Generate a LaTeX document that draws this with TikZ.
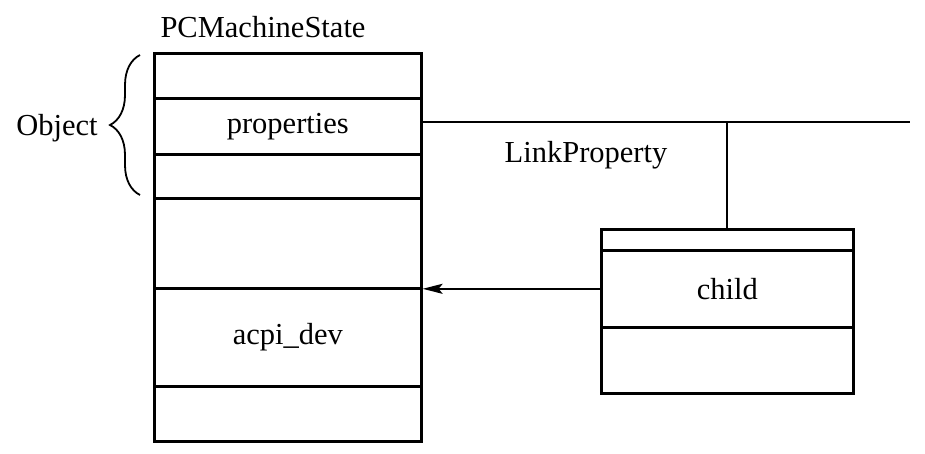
\documentclass[tikz,border=0pt]{standalone}
\usepackage{fontspec}
\setmainfont{Liberation Serif}
\usetikzlibrary{decorations.pathreplacing,arrows.meta}
\begin{document}
\begin{tikzpicture}[x=1pt,y=-1pt,
  field/.style={draw,line width=2.6pt,minimum width=267pt,inner sep=0pt,anchor=north west,font=\fontsize{30.5}{36}\selectfont},
  cfield/.style={draw,line width=2.6pt,minimum width=252pt,inner sep=0pt,anchor=north west,font=\fontsize{30.5}{36}\selectfont},
  lbl/.style={font=\fontsize{30.5}{36}\selectfont,inner sep=0pt},
  conn/.style={line width=1.8pt},
]
\useasboundingbox (0,0) rectangle (925,453);
% main struct
\node[field,minimum height=45pt] (f1) at (153,52) {};
\node[field,minimum height=56pt] (props) at (153,97) {properties};
\node[field,minimum height=44pt] (f3) at (153,153) {};
\node[field,minimum height=90pt] (f4) at (153,197) {};
\node[field,minimum height=98pt] (acpi) at (153,287) {acpi\_dev};
\node[field,minimum height=55pt] (f6) at (153,385) {};
\node[lbl] (title) at (263,27) {PCMachineState};
% child struct
\node[cfield,minimum height=21pt] (c1) at (600,228) {};
\node[cfield,minimum height=77pt] (child) at (600,249) {child};
\node[cfield,minimum height=66pt] (c3) at (600,326) {};
% link property
\coordinate (lend) at (910,122);
\coordinate (ljoin) at (727,122);
\draw[conn] (props.east |- lend) -- (lend);
\draw[conn] (ljoin) -- (ljoin |- c1.north);
\node[lbl] (lp) at (586,155) {LinkProperty};
% arrow
\draw[conn,-{Stealth[length=20pt,width=10pt,inset=4pt]}] (child.west) -- (child.west -| acpi.east);
% brace
\draw[line width=1.8pt,decorate,decoration={brace,amplitude=30pt,mirror,aspect=0.5}] (140,55) -- (140,195);
\node[lbl] (obj) at (57,128) {Object};
\end{tikzpicture}
\end{document}
